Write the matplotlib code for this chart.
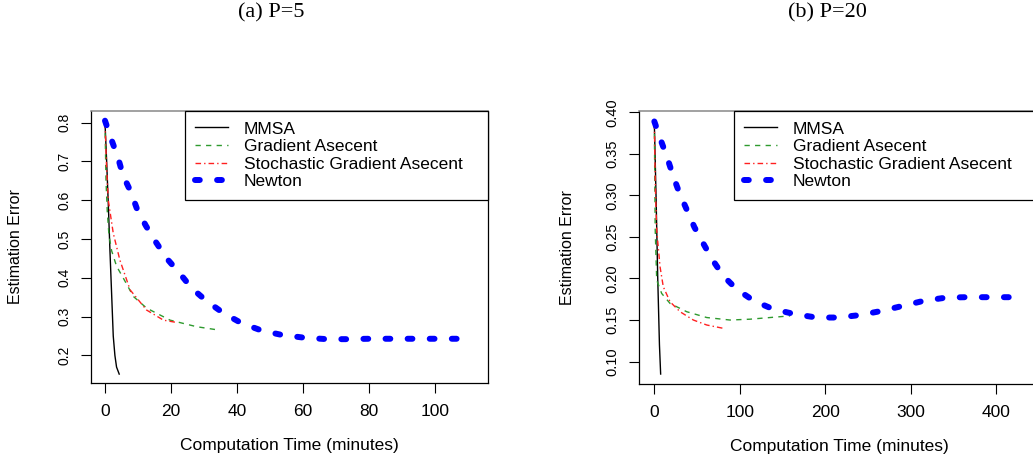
import matplotlib
matplotlib.use("Agg")
import matplotlib.pyplot as plt

plt.rcParams['font.family'] = ['Liberation Sans', 'DejaVu Sans']

# ---- data ----
# (a) P=5
a_mmsa_t = [0, 0.5, 1.0, 1.5, 2.0, 2.5, 3.0, 3.5, 4.3]
a_mmsa_e = [0.80, 0.70, 0.59, 0.47, 0.36, 0.25, 0.20, 0.17, 0.152]
a_grad_t = [0, 0.3, 0.7, 1.2, 2.0, 3.5, 5.5, 8.6, 12.6, 19.7, 27.8, 34.8]
a_grad_e = [0.80, 0.65, 0.57, 0.51, 0.47, 0.43, 0.40, 0.352, 0.322, 0.291, 0.274, 0.265]
a_sga_t = [0, 0.5, 1.0, 2.5, 4.5, 7.6, 12.6, 17.7, 21.7]
a_sga_e = [0.80, 0.68, 0.60, 0.515, 0.446, 0.369, 0.317, 0.291, 0.285]
a_newt_t = [0, 2, 4, 5.5, 7.8, 9.8, 12.4, 15.5, 18.7, 22.5, 26.3, 30.8, 35.9,
            41.4, 47.5, 53.5, 60.1, 67.2, 73.3, 80, 90, 100, 108.4]
a_newt_e = [0.805, 0.755, 0.708, 0.663, 0.622, 0.575, 0.534, 0.491, 0.450, 0.413,
            0.373, 0.340, 0.309, 0.283, 0.264, 0.253, 0.246, 0.242, 0.242, 0.243,
            0.243, 0.243, 0.243]

# (b) P=20
b_mmsa_t = [0, 2, 4, 6, 7.4]
b_mmsa_e = [0.387, 0.30, 0.20, 0.12, 0.085]
b_grad_t = [0, 1, 2.8, 8.6, 18.4, 37.9, 61.4, 88.6, 112, 135.5, 159]
b_grad_e = [0.387, 0.26, 0.198, 0.182, 0.170, 0.160, 0.153, 0.150, 0.151, 0.153, 0.155]
b_sga_t = [0, 1.2, 2.8, 6.7, 10.5, 18.4, 30.1, 45.7, 61.4, 80.8]
b_sga_e = [0.387, 0.31, 0.258, 0.214, 0.190, 0.172, 0.160, 0.150, 0.144, 0.140]
b_newt_t = [0, 7.4, 15.2, 22.2, 29.3, 37.9, 46.8, 57.4, 68.4, 80.8, 96.5, 116.7,
            139.4, 165, 190, 215.5, 240.9, 266.3, 290.8, 315, 341.6, 365.8, 391, 418.5]
b_newt_e = [0.389, 0.367, 0.345, 0.323, 0.303, 0.283, 0.262, 0.242, 0.222, 0.203,
            0.187, 0.173, 0.163, 0.157, 0.153, 0.153, 0.156, 0.161, 0.167, 0.173,
            0.177, 0.1775, 0.1775, 0.1775]

labels = ["MMSA", "Gradient Asecent", "Stochastic Gradient Asecent", "Newton"]
a_xticks = [0, 20, 40, 60, 80, 100]
a_yticks = [0.2, 0.3, 0.4, 0.5, 0.6, 0.7, 0.8]
b_xticks = [0, 100, 200, 300, 400]
b_yticks = [0.10, 0.15, 0.20, 0.25, 0.30, 0.35, 0.40]

fig = plt.figure(figsize=(10.33, 4.58), dpi=100)
W, H = 1033, 458


def panel(rect, data, xlim, ylim, xticks, yticks, yfmt, ysize, leg_x, leg_w, ylab_x):
    ax = fig.add_axes(rect)
    (mt, me), (gt, ge), (st, se), (nt, ne) = data
    ax.plot(mt, me, color="black", lw=1.0, label=labels[0])
    ax.plot(gt, ge, color="#2e9a2e", lw=1.0, ls=(0, (3.8, 3.8)), label=labels[1])
    ax.plot(st, se, color="#ff2020", lw=1.0, ls=(0, (4, 2.2, 1, 2.2)), label=labels[2])
    ax.plot(nt, ne, color="#0000ff", lw=4.3, ls=(0, (0.8, 2.9)),
            dash_capstyle="round", label=labels[3])
    ax.set_xlim(*xlim)
    ax.set_ylim(*ylim)
    ax.set_xticks(xticks)
    ax.set_yticks(yticks)
    ax.set_yticklabels([yfmt.format(v) for v in yticks], rotation=90, va="center")
    ax.tick_params(direction="out", length=7, width=0.8, pad=8)
    ax.tick_params(axis="x", labelsize=12.5)
    ax.tick_params(axis="y", labelsize=ysize, pad=7)
    ax.set_xlabel("Computation Time (minutes)", fontsize=12.5, labelpad=14)
    ax.set_ylabel("Estimation Error", fontsize=11.5)
    ax.yaxis.set_label_coords(ylab_x, 0.5)
    for s in ax.spines.values():
        s.set_linewidth(0.9)
    ax.spines["top"].set_color("#888888")
    ax.spines["top"].set_linewidth(1.1)
    leg = ax.legend(loc="upper left", bbox_to_anchor=(leg_x, 0.0, leg_w, 1.0),
                    mode="expand", frameon=True, fancybox=False, edgecolor="black",
                    framealpha=1, fontsize=12.5, handlelength=1.9,
                    handletextpad=0.9, labelspacing=0.14, borderpad=0.6,
                    borderaxespad=0)
    leg.get_frame().set_linewidth(0.9)
    return ax


ax1 = panel([91 / W, 1 - 383 / H, 397 / W, 272 / H],
            [(a_mmsa_t, a_mmsa_e), (a_grad_t, a_grad_e), (a_sga_t, a_sga_e), (a_newt_t, a_newt_e)],
            (-4.24, 116.0), (0.129, 0.830), a_xticks, a_yticks, "{:.1f}", 10,
            (185 - 91) / 397, (488 - 185) / 397, (23 - 91) / 397)
ax2 = panel([639.3 / W, 1 - 384 / H, 400 / W, 273 / H],
            [(b_mmsa_t, b_mmsa_e), (b_grad_t, b_grad_e), (b_sga_t, b_sga_e), (b_newt_t, b_newt_e)],
            (-17.6, 450.8), (0.073, 0.4016), b_xticks, b_yticks, "{:.2f}", 10.5,
            (734 - 639.3) / 400, (1040 - 734) / 400, (575 - 639.3) / 400)

fig.text(271 / W, 1 - 13 / H, "(a) P=5", ha="center", va="center",
         family="Liberation Serif", fontsize=16)
fig.text(827 / W, 1 - 13 / H, "(b) P=20", ha="center", va="center",
         family="Liberation Serif", fontsize=16)

fig.savefig("out.png", dpi=100)
